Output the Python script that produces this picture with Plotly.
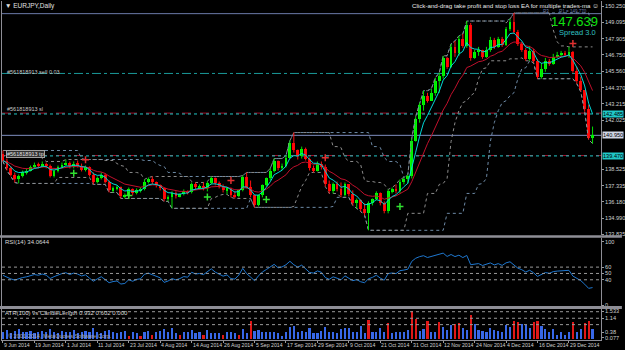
import numpy as np
import pandas as pd
import plotly.graph_objects as go

# ---------------- data ----------------
date_labels = ["9 Jun 2014", "19 Jun 2014", "1 Jul 2014", "11 Jul 2014", "23 Jul 2014",
               "4 Aug 2014", "14 Aug 2014", "26 Aug 2014", "5 Sep 2014", "17 Sep 2014",
               "29 Sep 2014", "9 Oct 2014", "21 Oct 2014", "31 Oct 2014", "12 Nov 2014",
               "24 Nov 2014", "4 Dec 2014", "16 Dec 2014", "29 Dec 2014"]
date_label_bar = [0, 8, 16, 24, 32, 40, 48, 56, 64, 72, 80, 88, 96, 104, 112, 120, 128, 136, 144]

first_open = 139.64
closes = [139.14, 138.57, 138.13, 137.78, 138.06, 138.28, 138.42, 138.64, 138.85, 138.71,
          138.92, 138.71, 138.06, 138.35, 138.64, 138.85, 138.99, 138.71, 138.92, 138.78,
          138.49, 138.64, 138.13, 137.56, 137.85, 138.13, 137.63, 136.99, 137.13, 137.20,
          136.56, 136.63, 137.06, 136.77, 136.99, 137.06, 137.63, 137.78, 137.56, 137.35,
          137.13, 136.34, 136.49, 136.77, 136.56, 136.70, 136.92, 136.84, 137.42, 137.20,
          137.27, 137.13, 137.49, 137.85, 137.49, 137.27, 136.99, 137.13, 136.63, 136.56,
          136.99, 137.92, 137.20, 136.63, 135.91, 136.63, 137.35, 137.85, 138.42, 139.14,
          138.57, 138.78, 139.35, 140.43, 139.86, 139.43, 140.00, 139.28, 138.57, 138.42,
          138.92, 138.64, 137.42, 136.92, 137.42, 137.06, 136.63, 137.42, 136.70, 136.06,
          136.27, 135.63, 135.34, 136.06, 136.34, 136.77, 136.06, 135.48, 136.92, 137.06,
          136.92, 137.63, 137.78, 137.99, 140.57, 142.15, 143.15, 143.80, 143.44, 144.01,
          144.87, 145.23, 146.52, 145.88, 147.31, 146.88, 147.88, 147.38, 148.89, 146.52,
          146.95, 147.10, 146.59, 147.10, 147.81, 147.31, 147.88, 147.45, 148.60, 149.10,
          148.39, 147.53, 147.10, 146.45, 147.02, 146.31, 145.16, 145.73, 146.31, 146.09,
          146.59, 146.74, 146.81, 146.74, 146.95, 145.59, 144.87, 144.23, 142.87, 140.79,
          140.95]
highs = [139.86, 139.28, 138.71, 138.28, 138.13, 138.42, 138.57, 138.78, 138.99, 138.99,
         139.07, 138.99, 138.85, 138.49, 138.78, 138.99, 139.21, 139.07, 139.07, 139.14,
         138.92, 138.78, 138.71, 138.28, 137.99, 138.28, 138.21, 137.70, 137.27, 137.35,
         137.27, 136.77, 137.20, 137.13, 137.13, 137.20, 137.78, 137.92, 137.99, 137.63,
         137.42, 137.20, 136.63, 136.92, 136.92, 136.77, 137.06, 136.99, 137.56, 137.56,
         137.42, 137.56, 137.63, 137.99, 137.92, 137.63, 137.42, 137.20, 137.20, 136.92,
         137.06, 138.06, 138.28, 137.70, 136.56, 136.70, 137.42, 137.92, 138.57, 139.28,
         139.14, 138.92, 139.50, 140.57, 141.15, 139.93, 140.14, 140.07, 139.35, 138.78,
         139.07, 139.07, 138.85, 137.70, 137.56, 137.63, 137.56, 137.56, 137.42, 136.99,
         136.41, 136.34, 136.06, 136.20, 136.41, 136.92, 136.84, 136.20, 137.06, 137.20,
         137.42, 137.78, 137.92, 138.13, 140.72, 142.29, 143.30, 144.16, 144.01, 144.30,
         145.09, 145.45, 146.67, 146.59, 147.53, 147.74, 148.10, 148.24, 149.17, 149.03,
         147.10, 147.31, 147.10, 147.31, 148.03, 147.96, 148.03, 148.03, 148.74, 149.32,
         149.75, 148.53, 147.67, 147.24, 147.38, 147.17, 146.45, 146.16, 146.52, 146.45,
         146.81, 146.95, 147.02, 147.02, 147.31, 147.02, 145.88, 145.16, 144.01, 143.15,
         141.58]
lows = [139.07, 138.42, 137.99, 137.56, 137.49, 137.92, 138.13, 138.35, 138.57, 138.57,
        138.64, 138.57, 137.92, 137.92, 138.28, 138.57, 138.78, 138.57, 138.57, 138.64,
        138.35, 138.35, 137.99, 137.42, 137.49, 137.78, 137.49, 136.84, 136.84, 136.99,
        136.41, 136.41, 136.49, 136.63, 136.70, 136.84, 136.99, 137.49, 137.42, 137.20,
        136.99, 136.20, 136.20, 135.70, 136.41, 136.49, 136.63, 136.70, 136.77, 137.06,
        137.06, 136.99, 136.92, 137.42, 137.35, 137.13, 136.84, 136.70, 136.49, 136.41,
        136.49, 136.92, 137.13, 136.49, 135.77, 135.84, 136.49, 137.27, 137.70, 138.28,
        138.42, 138.42, 138.64, 139.28, 139.71, 139.21, 139.28, 139.14, 138.42, 138.28,
        138.35, 138.49, 137.27, 136.77, 136.77, 136.92, 136.49, 136.56, 136.56, 135.91,
        135.70, 135.48, 135.20, 134.12, 135.91, 136.27, 135.91, 135.34, 135.34, 136.77,
        136.77, 136.77, 137.42, 137.49, 137.85, 140.50, 141.86, 142.72, 143.30, 143.44,
        143.80, 144.01, 145.02, 145.73, 145.81, 146.59, 146.67, 147.24, 147.24, 146.31,
        146.45, 146.67, 146.45, 146.52, 146.95, 147.17, 147.24, 147.31, 147.38, 148.46,
        148.24, 147.38, 146.95, 146.31, 146.31, 146.16, 145.02, 145.02, 145.52, 145.95,
        146.02, 146.52, 146.59, 146.59, 146.52, 145.45, 144.66, 144.09, 142.65, 140.64,
        140.36]
# daily FX bars open at the previous bar's close
opens = [first_open] + closes[:-1]

buy_bar = [18, 32, 52, 67, 101]
buy_price = [138.23, 136.63, 136.51, 136.34, 135.84]
sell_bar = [21, 58, 82, 145]
sell_price = [139.19, 137.71, 139.33, 147.55]

candle_length = [0.40, 0.49, 0.31, 0.46, 0.53, 0.40, 0.37, 0.44, 0.31, 0.40,
                 0.46, 0.37, 0.53, 0.40, 0.31, 0.44, 0.37, 0.40, 0.49, 0.31,
                 0.37, 0.46, 0.40, 0.62, 0.40, 0.31, 0.44, 0.49, 0.37, 0.31,
                 0.40, 0.44, 0.16, 0.37, 0.31, 0.16, 0.40, 0.46, 0.20, 0.37,
                 0.44, 0.55, 0.40, 0.58, 0.31, 0.20, 0.40, 0.37, 0.49, 0.31,
                 0.37, 0.22, 0.49, 0.31, 0.31, 0.31, 0.22, 0.37, 0.40, 0.31,
                 0.22, 0.53, 0.31, 0.99, 0.46, 0.49, 0.40, 0.40, 0.40, 0.40,
                 0.31, 0.16, 0.40, 0.64, 0.71, 0.40, 0.46, 0.40, 0.58, 0.34,
                 0.34, 0.46, 0.64, 0.37, 0.37, 0.31, 0.53, 0.58, 0.58, 0.40,
                 0.40, 0.71, 0.34, 1.04, 0.40, 0.40, 0.58, 0.37, 0.88, 0.31,
                 0.40, 0.37, 0.40, 0.49, 1.53, 1.08, 0.46, 0.53, 1.00, 0.40,
                 0.37, 0.95, 0.68, 0.49, 0.77, 0.80, 0.86, 0.58, 0.49, 1.31,
                 0.82, 0.49, 0.46, 0.40, 0.62, 0.49, 0.44, 0.37, 0.77, 0.68,
                 1.00, 0.95, 0.82, 0.77, 0.58, 0.95, 1.00, 0.71, 0.53, 0.37,
                 0.53, 0.22, 0.40, 0.22, 0.40, 0.95, 0.37, 0.55, 0.89, 1.00,
                 0.55]
candle_length_red = [32, 35, 38, 45, 51, 56, 60, 63, 93, 98, 104, 105, 108, 111, 115,
                     116, 119, 130, 131, 135, 136, 145, 148, 149]

price_ticks = [150.250, 149.095, 147.905, 146.750, 145.560, 144.370, 143.215, 142.025,
               138.525, 137.335, 136.180, 134.990, 133.835]
rsi_ticks = [0, 40, 50, 60, 100]
rsi_levels = [40, 50, 60]
cl_ticks = [0.077, 0.38, 1.14, 1.533]
cl_levels = [0.79, 1.14, 1.50]

order_sell_level = 145.40
sl_red_level = 142.55
sl_cyan_level = 142.485
bid_level = 140.95
tp_red_level = 139.50
tp_cyan_level = 139.47
r_line_level = 149.70

# ---------------- derived indicators ----------------
n = len(closes)
bars = list(range(n))
cs = pd.Series(closes)
ema_fast = cs.ewm(span=5, adjust=False).mean()
ema_slow = cs.ewm(span=12, adjust=False).mean()
hs, ls = pd.Series(highs), pd.Series(lows)
dc10_hi = hs.rolling(10, min_periods=1).max()
dc10_lo = ls.rolling(10, min_periods=1).min()
dc20_hi = hs.rolling(20, min_periods=1).max()
dc20_lo = ls.rolling(20, min_periods=1).min()

# Wilder RSI(14), started from a neutral state (history before the window is unknown)
RSI_N = 14
avg_g, avg_l = 0.3, 0.3
rsi = []
prev = first_open
for c in closes:
    d = c - prev
    avg_g = (avg_g * (RSI_N - 1) + max(d, 0)) / RSI_N
    avg_l = (avg_l * (RSI_N - 1) + max(-d, 0)) / RSI_N
    rsi.append(100 - 100 / (1 + avg_g / avg_l) if avg_l > 0 else 100)
    prev = c

# ---------------- figure ----------------
W, H = 625, 350
ML, MR, MT, MB = 2, 21, 0, 9
PW, PH = W - ML - MR, H - MT - MB


def xp(px):
    return (px - ML) / PW


def yp(py):
    return 1 - (py - MT) / PH


FONT = "Liberation Sans"
TXT = "#d0d0d0"
fig = go.Figure()

# channels
for ser, col in [(dc20_hi, "#6d8aa6"), (dc20_lo, "#6d8aa6"), (dc10_hi, "#8c8c8c"), (dc10_lo, "#8c8c8c")]:
    fig.add_trace(go.Scatter(x=bars, y=ser, mode="lines", line=dict(color=col, width=1, dash="dot"),
                             hoverinfo="skip", showlegend=False))

# horizontal objects
for lvl, col, dash in [(r_line_level, "#6a7aa8", "solid"), (order_sell_level, "#1a9a9a", "dashdot"),
                       (sl_red_level, "#a0102a", "dash"), (sl_cyan_level, "#20c8c8", "dot"),
                       (bid_level, "#7f8fc0", "solid"), (tp_red_level, "#a0102a", "dash"),
                       (tp_cyan_level, "#20c8c8", "dot")]:
    fig.add_shape(type="line", xref="paper", x0=0, x1=1, yref="y", y0=lvl, y1=lvl,
                  line=dict(color=col, width=1, dash=dash), layer="below")

# wicks
for up in (True, False):
    wx, wy = [], []
    for i in bars:
        if (closes[i] >= opens[i]) == up:
            wx += [i, i, None]
            wy += [lows[i], highs[i], None]
    fig.add_trace(go.Scatter(x=wx, y=wy, mode="lines", line=dict(color="#00e000" if up else "#ff1010", width=1),
                             hoverinfo="skip", showlegend=False))

# bodies
body = [c - o if abs(c - o) > 0.03 else 0.04 for o, c in zip(opens, closes)]
bcol = ["#00ff00" if c >= o else "#ff0000" for o, c in zip(opens, closes)]
fig.add_trace(go.Bar(x=bars, y=body, base=opens, width=0.72, marker=dict(color=bcol, line=dict(width=0)),
                     showlegend=False, hoverinfo="skip"))

# moving averages
fig.add_trace(go.Scatter(x=bars, y=ema_slow, mode="lines", line=dict(color="#c0102c", width=1), showlegend=False))
fig.add_trace(go.Scatter(x=bars, y=ema_fast, mode="lines", line=dict(color="#00d8d8", width=1), showlegend=False))

# signal marks
fig.add_trace(go.Scatter(x=buy_bar, y=buy_price, mode="markers",
                         marker=dict(symbol="cross-thin", size=5, line=dict(color="#30e030", width=1.5)),
                         showlegend=False))
fig.add_trace(go.Scatter(x=sell_bar, y=sell_price, mode="markers",
                         marker=dict(symbol="cross-thin", size=5, line=dict(color="#e03030", width=1.5)),
                         showlegend=False))

# RSI panel
for lv in rsi_levels:
    fig.add_shape(type="line", xref="paper", x0=0, x1=1, yref="y2", y0=lv, y1=lv,
                  line=dict(color="#9a9a9a", width=1, dash="dot"))
fig.add_trace(go.Scatter(x=bars, y=rsi, yaxis="y2", mode="lines", line=dict(color="#1f78d0", width=1),
                         showlegend=False))

# candle-length panel
for lv in cl_levels:
    fig.add_shape(type="line", xref="paper", x0=0, x1=1, yref="y3", y0=lv, y1=lv,
                  line=dict(color="#9a9a9a", width=1, dash="dot"))
ccol = ["#e01818" if i in candle_length_red else "#3868e8" for i in bars]
fig.add_trace(go.Bar(x=bars, y=candle_length, yaxis="y3", width=0.55, marker=dict(color=ccol, line=dict(width=0)),
                     showlegend=False))

# panel separators / borders
for y0, y1 in [(235, 237.5), (306, 309)]:
    fig.add_shape(type="rect", xref="paper", yref="paper", x0=xp(0), x1=xp(W), y0=yp(y1), y1=yp(y0),
                  fillcolor="#8e8e96", line=dict(width=0), layer="above")
fig.add_shape(type="line", xref="paper", yref="paper", x0=xp(1.5), x1=xp(1.5), y0=yp(341), y1=yp(0),
              line=dict(color="#8e8e96", width=1))

tick_font = dict(family=FONT, size=5.6, color=TXT)
ax_common = dict(side="right", showgrid=False, zeroline=False, ticks="outside", ticklen=2,
                 tickcolor="#9a9a9a", showline=True, linecolor="#8e8e96", linewidth=1,
                 tickfont=tick_font, anchor="x")
fig.update_layout(
    width=W, height=H, margin=dict(l=ML, r=MR, t=MT, b=MB),
    paper_bgcolor="black", plot_bgcolor="black", barmode="overlay", bargap=0,
    showlegend=False,
    xaxis=dict(range=[-0.25, 152.15], showgrid=False, zeroline=False, showticklabels=False,
               tickvals=date_label_bar, ticks="outside", ticklen=2, tickcolor="#9a9a9a",
               showline=True, linecolor="#8e8e96", anchor="y3", rangeslider=dict(visible=False)),
    yaxis=dict(domain=[yp(235), 1], range=[133.76, 150.61], tickvals=price_ticks,
               ticktext=[f"{v:.3f}" for v in price_ticks], **ax_common),
    yaxis2=dict(domain=[yp(306), yp(237.5)], range=[-1.6, 106.3], tickvals=rsi_ticks,
                ticktext=[str(v) for v in rsi_ticks], **ax_common),
    yaxis3=dict(domain=[yp(340), yp(309)], range=[-0.055, 1.644], tickvals=cl_ticks,
                ticktext=[f"{v:g}" for v in cl_ticks], **ax_common),
)

anns = []


def ann(text, px, py, size=6.5, color=TXT, xanchor="left", **kw):
    anns.append(dict(text=text, x=xp(px), y=yp(py), xref="paper", yref="paper", showarrow=False,
                     xanchor=xanchor, yanchor="middle", font=dict(family=FONT, size=size, color=color), **kw))


for lab, b in zip(date_labels, date_label_bar):
    anns.append(dict(text=lab, x=b, y=yp(345), xref="x", yref="paper", showarrow=False, xanchor="left",
                     yanchor="middle", xshift=-1, font=dict(family=FONT, size=5.2, color=TXT)))

ann("▼ EURJPY,Daily", 3, 5.5, size=6.5, color="#e0e0e0")
ann("Click-and-drag take profit and stop loss EA for multiple trades-ma", 596, 4.5, size=6.2,
    color="#e8e8e8", xanchor="right")
ann("☺", 604, 4.5, size=7, color="#e8e8e8", xanchor="right")
ann("R3", 544, 10.5, size=4.5, color="#6a7aa8")
ann("R1 = 149.770", 592, 10.5, size=4.5, color="#6a7aa8", xanchor="right")
ann("147.639", 603, 20.5, size=13, color="#10e010", xanchor="right")
ann("Spread 3.0", 601, 31.5, size=7.5, color="#30c0c0", xanchor="right")
ann("#561818913 sell 0.03", 5, 71, size=5.5, color="#c8c8c8")
ann("#561818913 sl", 5, 108.5, size=5.5, color="#c8c8c8")
ann("#561818913 tp", 6, 153, size=5.5, color="#e0e0e0", bgcolor="#303030", bordercolor="#a0a0a0",
    borderwidth=1, borderpad=0)
ann("RSI(14) 34.0644", 3, 241.5, size=6, color="#d8d8d8")
ann("ATR(100) vs CandleLength 0.932 0.602 0.000", 3, 313, size=6, color="#d8d8d8")
ann("© 2001-2014, MetaQuotes Software Corp.", 6, 336, size=5.5, color="#a8a8a8")

for lvl, bg in [(sl_cyan_level, "#20c8c8"), (bid_level, "#d0d6e6"), (tp_cyan_level, "#20c8c8")]:
    anns.append(dict(text=f"{lvl:.3f}", x=1, y=lvl, xref="paper", yref="y", showarrow=False,
                     xanchor="left", yanchor="middle", xshift=1, bgcolor=bg, borderpad=0,
                     font=dict(family=FONT, size=5.6, color="black")))
fig.update_layout(annotations=anns)

fig.write_html("out.html")
